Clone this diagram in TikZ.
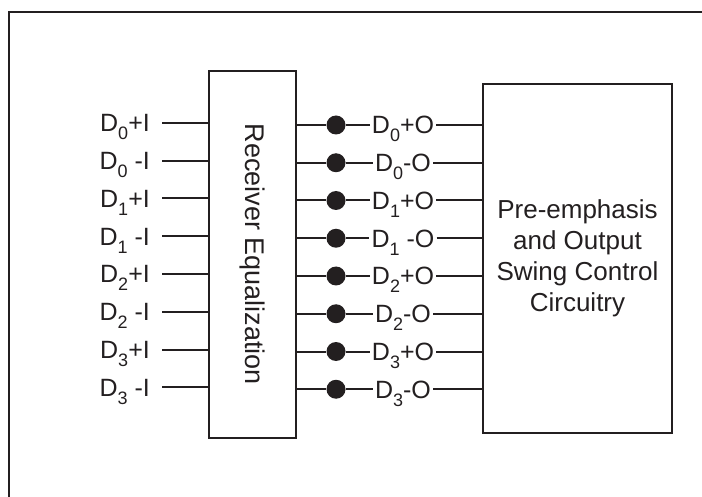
\documentclass[tikz,border=0pt]{standalone}
\usepackage{fontspec}
\setmainfont{Liberation Sans}
\definecolor{ink}{HTML}{231F20}
\newcommand{\dsub}[1]{\raisebox{-8pt}{\fontsize{18}{18}\selectfont #1}}
\tikzset{
	block/.style={draw=ink, line width=2pt, text=ink},
	sig/.style={draw=ink, line width=2pt},
	lab/.style={text=ink, font=\fontsize{25}{28}\selectfont, inner sep=0pt, text height=18pt, text depth=0pt},
	joint/.style={circle, fill=ink, minimum size=19pt, inner sep=0pt}
}
\begin{document}
\begin{tikzpicture}[x=1pt,y=-1pt]
		\useasboundingbox (0,0) rectangle (702,497);
		% frame
		\draw[ink, line width=2pt] (9,497) -- (9,12) -- (702,12);
		% blocks
		\node[block, minimum width=87pt, minimum height=367pt] (rx) at (252.5,254.5) {};
		\node[text=ink, rotate=-90, font=\fontsize{27}{30}\selectfont] (rxtext) at (rx.center) {Receiver Equalization};
		\node[block, minimum width=189pt, minimum height=349pt, align=center, font=\fontsize{26}{31}\selectfont] (pe) at (577.5,258.5) {Pre-emphasis\\and Output\\Swing Control\\Circuitry};
		% inputs
		\foreach \k/\txt in {0/{D\dsub{0}+I}, 1/{D\dsub{0} -I}, 2/{D\dsub{1}+I}, 3/{D\dsub{1} -I}, 4/{D\dsub{2}+I}, 5/{D\dsub{2} -I}, 6/{D\dsub{3}+I}, 7/{D\dsub{3} -I}} {
			\pgfmathsetmacro\yy{123+37.75*\k}
			\node[lab, anchor=east] (in\k) at (150,\yy) {\txt};
			\coordinate (ia\k) at (162,\yy);
			\draw[sig] (ia\k) -- (ia\k -| rx.west);
		}
		% outputs
		\foreach \k/\txt in {0/{D\dsub{0}+O}, 1/{D\dsub{0}-O}, 2/{D\dsub{1}+O}, 3/{D\dsub{1} -O}, 4/{D\dsub{2}+O}, 5/{D\dsub{2}-O}, 6/{D\dsub{3}+O}, 7/{D\dsub{3}-O}} {
			\pgfmathsetmacro\yy{125+37.75*\k}
			\node[joint] (dot\k) at (336,\yy) {};
			\node[lab, inner xsep=2pt] (out\k) at (403,\yy) {\txt};
			\draw[sig] (dot\k -| rx.east) -- (dot\k) -- (out\k) -- (out\k -| pe.west);
		}
\end{tikzpicture}
\end{document}
